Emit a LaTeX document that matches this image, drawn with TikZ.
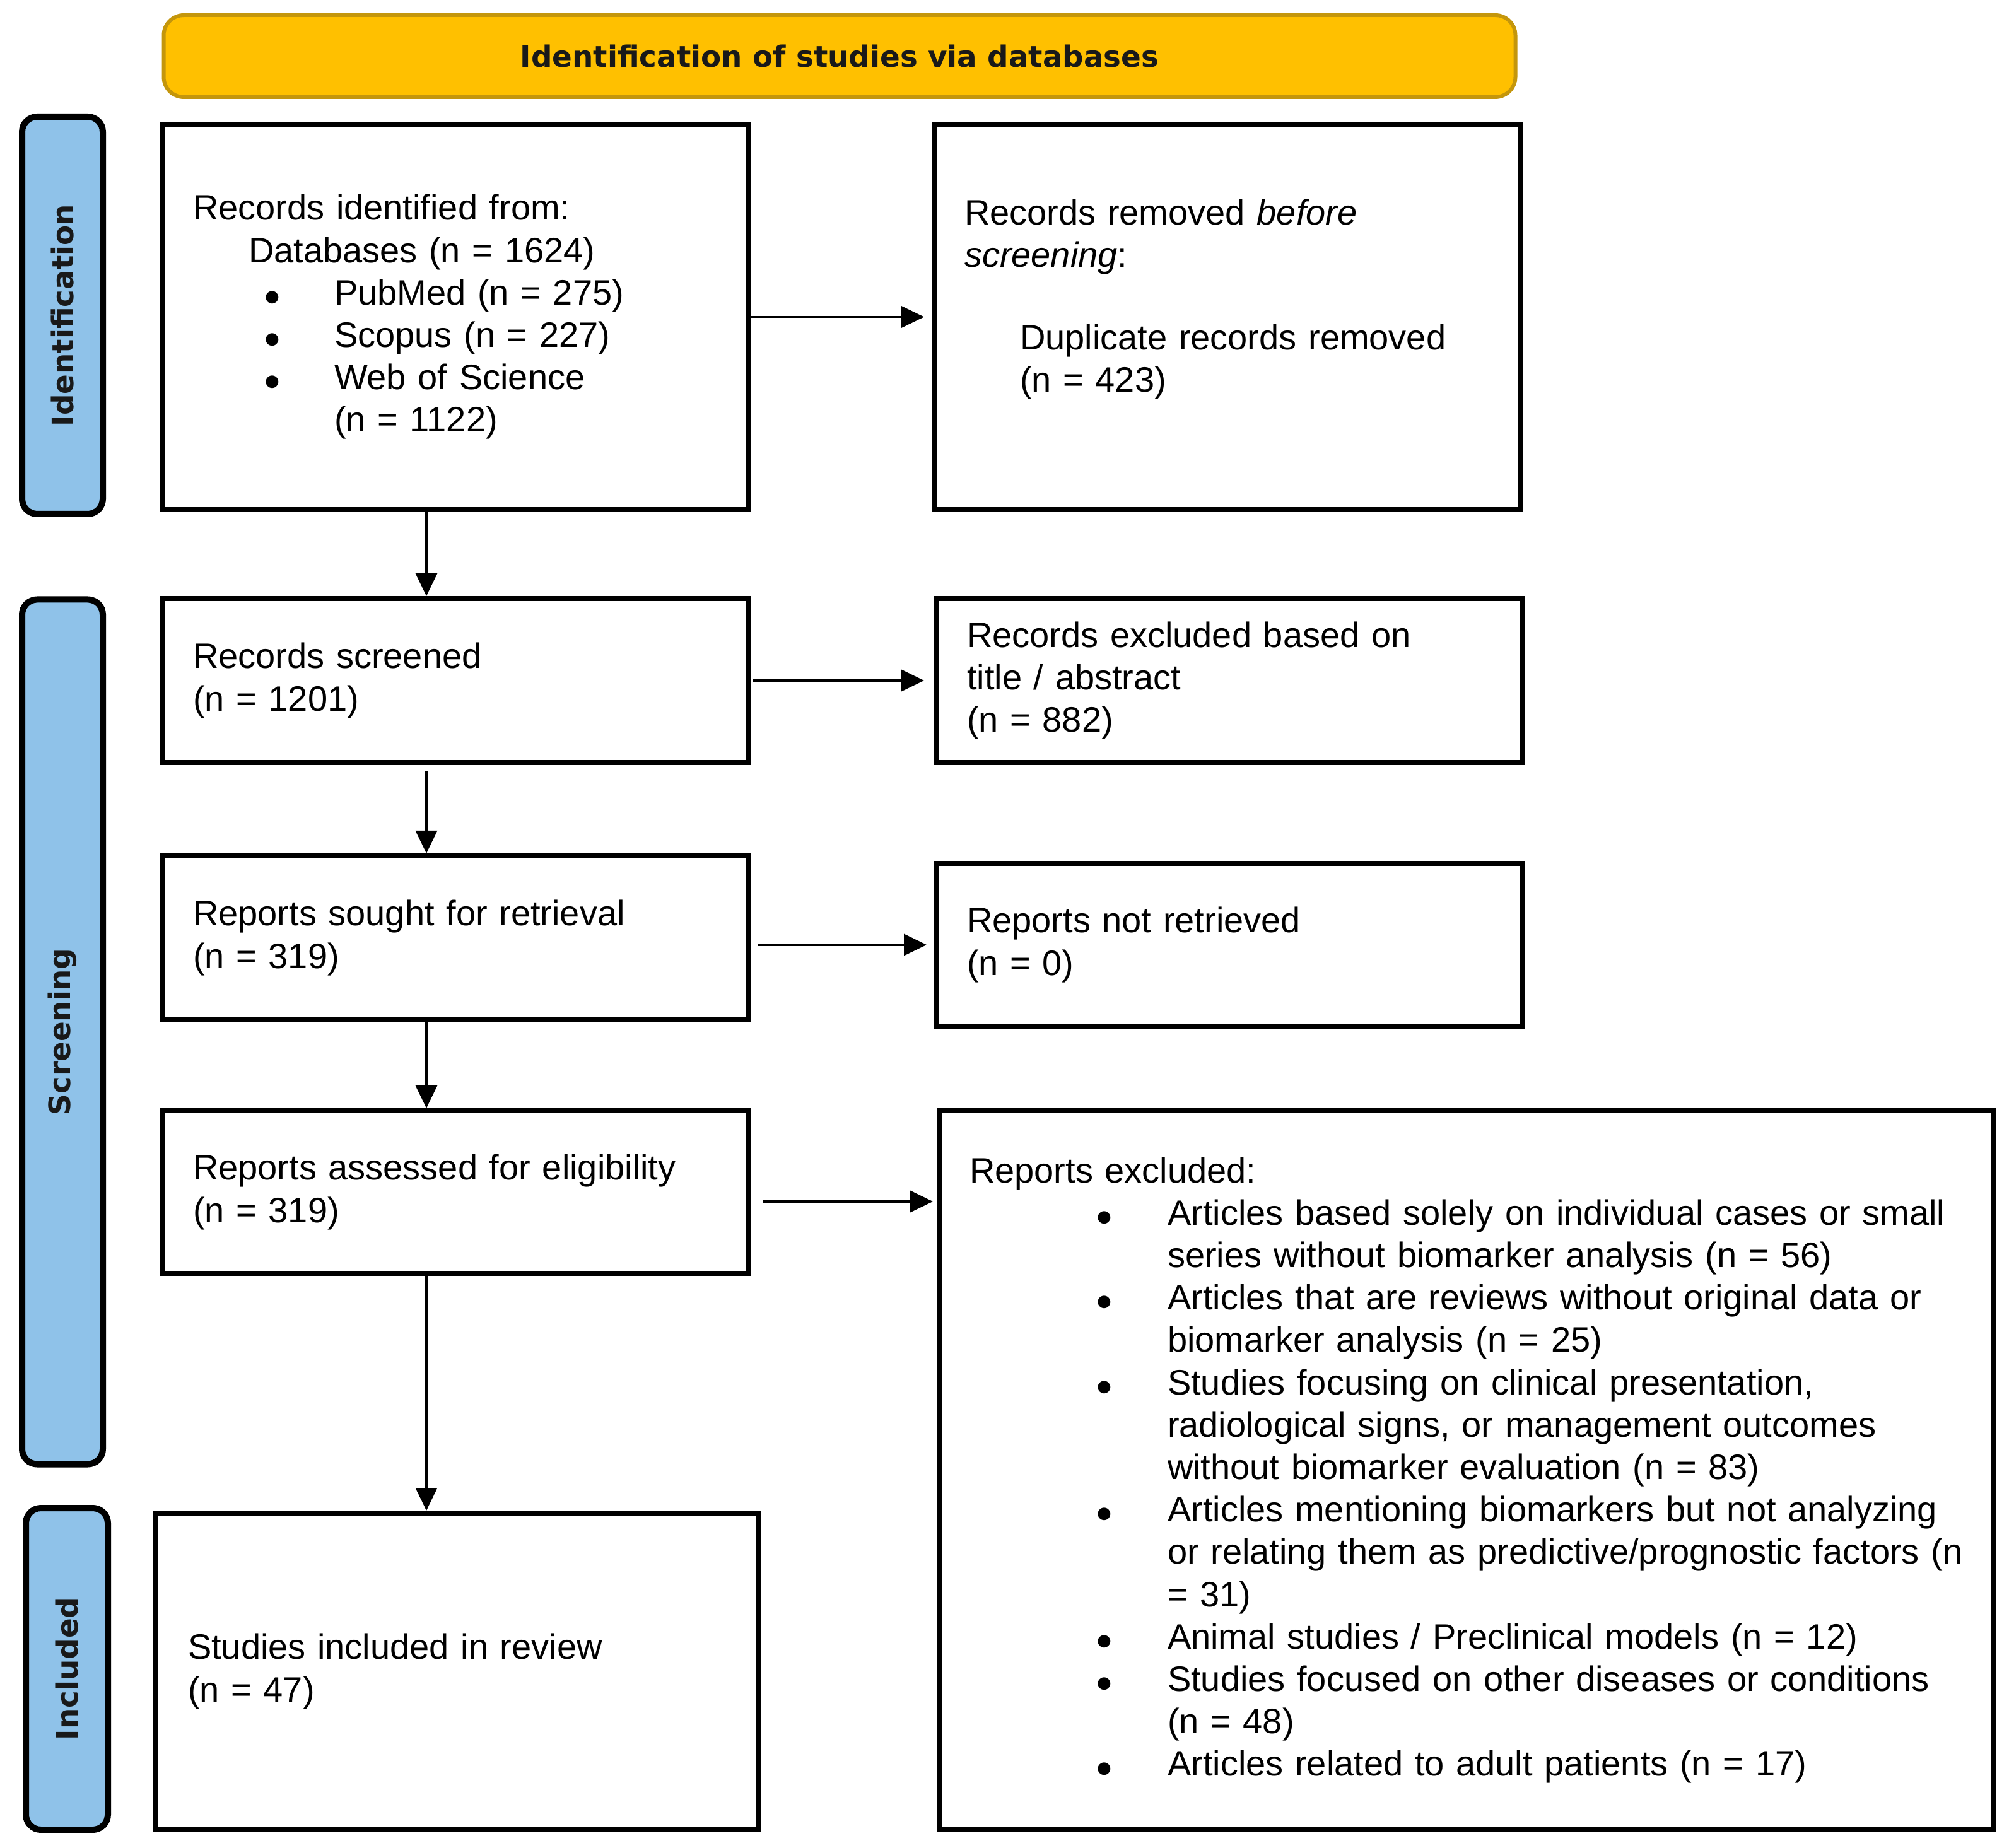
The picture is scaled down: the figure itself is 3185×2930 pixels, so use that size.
\documentclass[tikz,border=0pt]{standalone}
\usepackage{fontspec}
\setmainfont{Liberation Sans}
\newfontfamily\hdfont{DejaVu Sans}
\usetikzlibrary{arrows.meta,calc}
\definecolor{hdfill}{HTML}{FFC000}
\definecolor{hddraw}{HTML}{C4960C}
\definecolor{sidefill}{RGB}{143,194,233}
\newcommand{\mybul}{\raisebox{1.2pt}{\hdfont\fontsize{6.5}{7}\selectfont ●}}
\newcommand{\aitem}[1]{\mbox{\hspace*{28.5pt}\makebox[27.5pt][l]{\mybul}#1}}
\newcommand{\acont}[1]{\mbox{\hspace*{56pt}#1}}
\newcommand{\bitem}[1]{\mbox{\hspace*{50.5pt}\makebox[28pt][l]{\mybul}#1}}
\newcommand{\bcont}[1]{\mbox{\hspace*{78.5pt}#1}}
\begin{document}
\begin{tikzpicture}[x=0.25pt,y=-0.25pt,
  box/.style={draw=black, line width=2pt, fill=white, rectangle, inner ysep=0pt, inner xsep=12pt,
    align=left, font=\fontsize{14}{16.8}\selectfont},
  side/.style={draw=black, line width=2.5pt, fill=sidefill, rounded corners=6pt, inner sep=0pt,
    font=\hdfont\bfseries\fontsize{11.7}{14}\selectfont, text=black!90, rotate=90},
  hdr/.style={draw=hddraw, line width=1.5pt, fill=hdfill, rounded corners=8pt, inner sep=0pt,
    font=\hdfont\bfseries\fontsize{11.7}{14}\selectfont, text=black!90},
  arr/.style={line width=0.85pt, -{Triangle[length=9pt,width=8.5pt]}}]
\useasboundingbox (0,0) rectangle (3185,2930);

% header
\node[hdr, minimum width=535.75pt, minimum height=32.5pt] (hd) at (1331,89) {Identification of studies via databases};

% side labels
\node[side, minimum width=157.5pt, minimum height=32pt] (sid) at (99,500) {Identification};
\node[side, minimum width=342.75pt, minimum height=32pt] (sscr) at (99,1636) {Screening};
\node[side, minimum width=127.5pt, minimum height=32.5pt] (sinc) at (106,2646) {Included};

% boxes
\node[box, text width=208pt, minimum width=232pt, minimum height=152.75pt] (B1) at (722,502.5) {%
\mbox{Records identified from:}\\
\mbox{\hspace*{22pt}Databases (n = 1624)}\\
\aitem{PubMed (n = 275)}\\
\aitem{Scopus (n = 227)}\\
\aitem{Web of Science}\\
\acont{(n = 1122)}};

\node[box, text width=208.5pt, minimum width=232.5pt, minimum height=152.75pt] (B2) at (1946,502.5) {%
\mbox{Records removed \textit{before}}\\
\mbox{\textit{screening}:}\\[-1pt]
\mbox{}\\
\mbox{\hspace*{22pt}Duplicate records removed}\\
\mbox{\hspace*{22pt}(n = 423)}\\
\mbox{}};

\node[box, text width=208pt, minimum width=232pt, minimum height=65pt] (B3) at (722,1079) {%
Records screened\\(n = 1201)};

\node[box, text width=208pt, minimum width=232pt, minimum height=65pt] (B4) at (1949,1079) {%
Records excluded based on\\title / abstract\\(n = 882)};

\node[box, text width=208pt, minimum width=232pt, minimum height=65pt] (B5) at (722,1487) {%
Reports sought for retrieval\\(n = 319)};

\node[box, text width=208pt, minimum width=232pt, minimum height=64.5pt] (B6) at (1949,1498) {%
Reports not retrieved\\(n = 0)};

\node[box, text width=208pt, minimum width=232pt, minimum height=64.5pt] (B7) at (722,1890) {%
Reports assessed for eligibility\\(n = 319)};

\node[box, text width=394pt, minimum width=418pt, minimum height=285pt] (B8) at (2325,2331) {%
\mbox{Reports excluded:}\\
\bitem{Articles based solely on individual cases or small}\\
\bcont{series without biomarker analysis (n = 56)}\\
\bitem{Articles that are reviews without original data or}\\
\bcont{biomarker analysis (n = 25)}\\
\bitem{Studies focusing on clinical presentation,}\\
\bcont{radiological signs, or management outcomes}\\
\bcont{without biomarker evaluation (n = 83)}\\
\bitem{Articles mentioning biomarkers but not analyzing}\\
\bcont{or relating them as predictive/prognostic factors (n}\\
\bcont{= 31)}\\
\bitem{Animal studies / Preclinical models (n = 12)}\\
\bitem{Studies focused on other diseases or conditions}\\
\bcont{(n = 48)}\\
\bitem{Articles related to adult patients (n = 17)}};

\node[box, inner xsep=13pt, text width=213.25pt, minimum width=239.25pt, minimum height=125.5pt] (B9) at (724.5,2650) {%
Studies included in review\\(n = 47)};

% connectors
\coordinate (ax) at (676,0);
\draw[arr, shorten >=3pt] (B1.east) -- (B2.west);
\draw[arr, shorten <=1pt, shorten >=4pt] (B3.east) -- (B4.west);
\draw[arr, shorten <=3pt, shorten >=3pt] (B5.east |- B6.west) -- (B6.west);
\draw[arr, shorten <=5pt, shorten >=1.5pt] ([yshift=-3.75pt]B7.east) -- ([yshift=-3.75pt]B7.east -| B8.west);

\draw[arr] (B1.south -| ax) -- (B3.north -| ax);
\draw[arr, shorten <=2.5pt] (B3.south -| ax) -- (B5.north -| ax);
\draw[arr] (B5.south -| ax) -- (B7.north -| ax);
\draw[arr] (B7.south -| ax) -- (B9.north -| ax);
\end{tikzpicture}
\end{document}
